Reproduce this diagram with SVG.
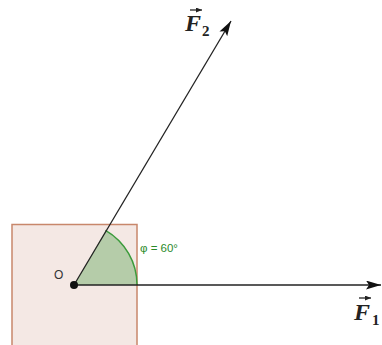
<svg xmlns="http://www.w3.org/2000/svg" width="382" height="345" viewBox="0 0 382 345">
<defs>
<style>
.vec{stroke:#222;stroke-width:1.3;fill:none}
.lbl{font-family:"Liberation Serif",serif;font-weight:bold;font-style:italic;font-size:24px;fill:#222}
.sub{font-family:"Liberation Serif",serif;font-weight:bold;font-size:15px;fill:#222}
</style>
<marker id="ah" viewBox="0 0 15 9" refX="15" refY="4.5" markerWidth="15" markerHeight="9" markerUnits="userSpaceOnUse" orient="auto">
<path d="M0,0 L15,4.5 L0,9 L3,4.5 Z" fill="#111"/>
</marker>
<marker id="sa" viewBox="0 0 6 5" refX="6" refY="2.5" markerWidth="6" markerHeight="5" markerUnits="userSpaceOnUse" orient="auto">
<path d="M0,0 L6,2.5 L0,5 Z" fill="#222"/>
</marker>
</defs>
<rect width="382" height="345" fill="#ffffff"/>
<g id="square">
<rect x="12" y="224.5" width="125" height="130" fill="#f4e8e4" stroke="#c8876b" stroke-width="1.5"/>
</g>
<g id="angle">
<path d="M74,285 L137,285 A63,63 0 0 0 105.5,230.4 Z" fill="#b5cca9" stroke="none"/>
<path d="M137,285 A63,63 0 0 0 105.5,230.4" fill="none" stroke="#3b9b3b" stroke-width="1.5"/>
<text x="140" y="252" font-family="Liberation Sans, sans-serif" font-size="11.5" fill="#2a8a2a">φ = 60°</text>
</g>
<g id="connectors">
<line class="vec" x1="74" y1="285" x2="381" y2="285" marker-end="url(#ah)"/>
<line class="vec" x1="74" y1="285" x2="231" y2="21" marker-end="url(#ah)"/>
</g>
<g id="O">
<circle cx="74" cy="285" r="4" fill="#111"/>
<text x="54" y="279" font-family="Liberation Sans, sans-serif" font-size="12" fill="#333">O</text>
</g>
<g id="F1">
<text class="lbl" x="354" y="320">F</text>
<text class="sub" x="372" y="325">1</text>
<line x1="359" y1="298" x2="371" y2="298" stroke="#222" stroke-width="1.3" marker-end="url(#sa)"/>
</g>
<g id="F2">
<text class="lbl" x="185" y="31">F</text>
<text class="sub" x="202" y="36">2</text>
<line x1="190" y1="10" x2="202" y2="10" stroke="#222" stroke-width="1.3" marker-end="url(#sa)"/>
</g>
</svg>
